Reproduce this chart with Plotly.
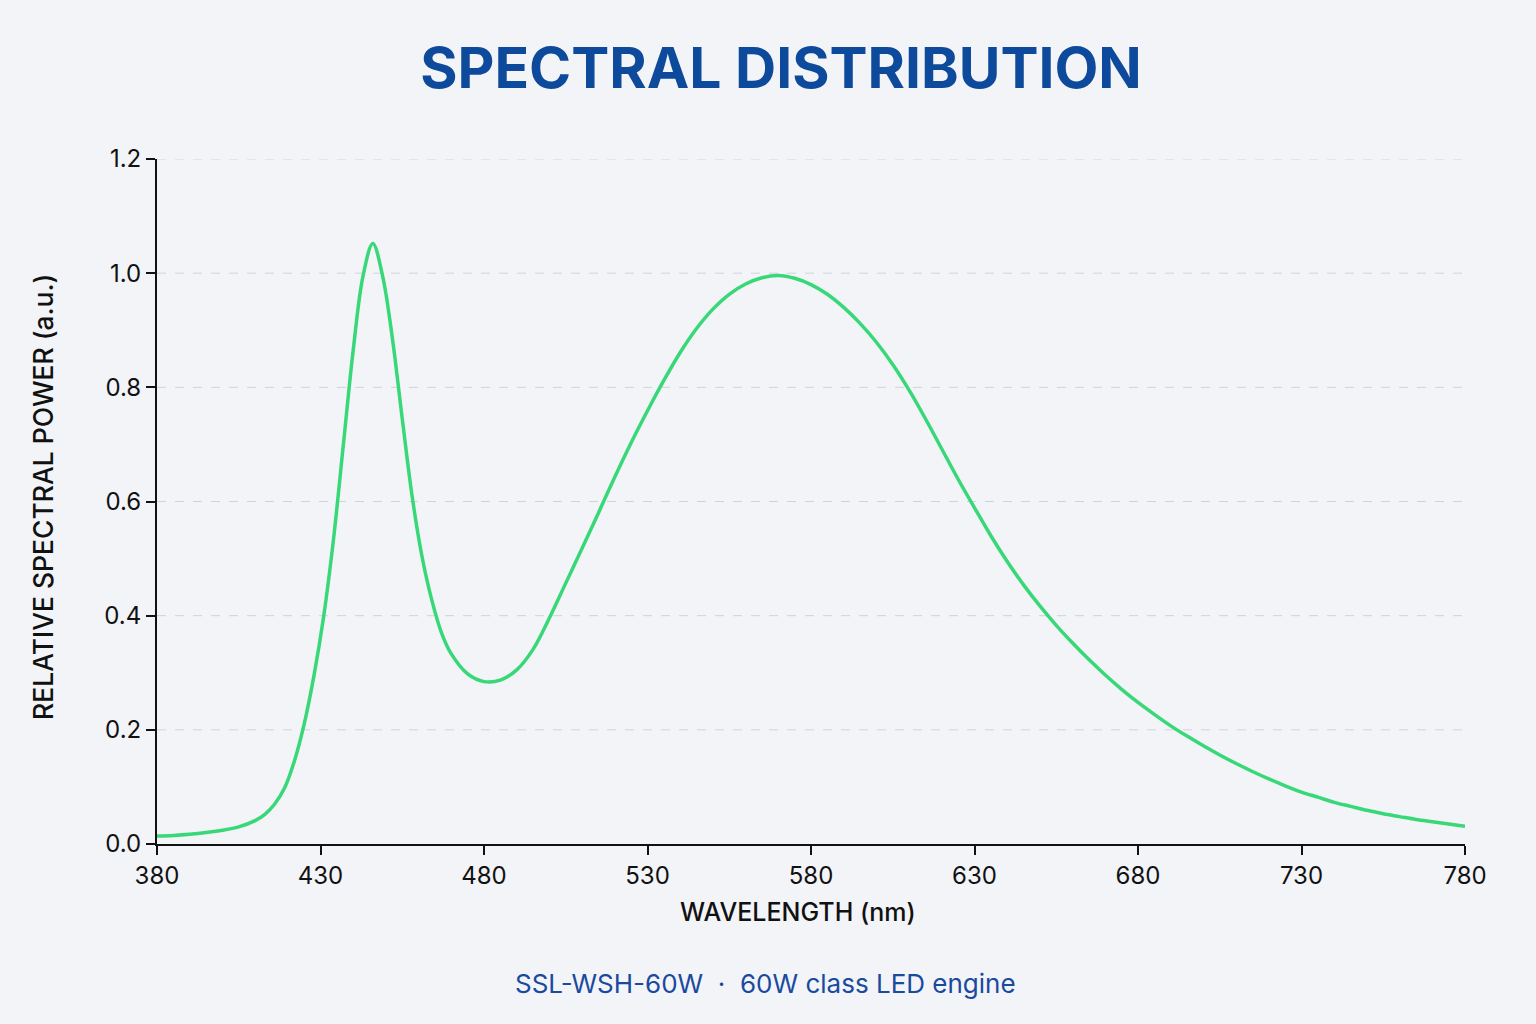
import plotly.graph_objects as go

wavelength_nm = [380, 385, 390, 395, 400, 405, 410, 413, 416, 419, 422, 425, 428, 431, 434, 437,
                 440, 443, 446, 449, 452, 455, 458, 461, 464, 467, 470, 475, 480, 485, 490, 495,
                 500, 505, 510, 515, 520, 525, 530, 535, 540, 545, 550, 555, 560, 565, 570, 575,
                 580, 585, 590, 595, 600, 605, 610, 615, 620, 625, 630, 635, 640, 645, 650, 655,
                 660, 665, 670, 675, 680, 685, 690, 695, 700, 705, 710, 715, 720, 725, 730, 735,
                 740, 745, 750, 755, 760, 765, 770, 775, 780]
relative_power = [0.014, 0.015, 0.017, 0.020, 0.024, 0.030, 0.041, 0.052, 0.070, 0.098, 0.145, 0.210,
                  0.295, 0.400, 0.535, 0.700, 0.865, 0.995, 1.052, 0.995, 0.885, 0.745, 0.610, 0.505,
                  0.428, 0.370, 0.333, 0.298, 0.2845, 0.287, 0.305, 0.341, 0.396, 0.457, 0.518, 0.580,
                  0.643, 0.703, 0.759, 0.812, 0.861, 0.903, 0.937, 0.963, 0.981, 0.992, 0.996, 0.991,
                  0.980, 0.963, 0.940, 0.912, 0.879, 0.840, 0.795, 0.745, 0.692, 0.639, 0.589, 0.540,
                  0.495, 0.454, 0.417, 0.383, 0.352, 0.323, 0.296, 0.271, 0.248, 0.227, 0.207, 0.189,
                  0.172, 0.156, 0.141, 0.127, 0.114, 0.102, 0.091, 0.082, 0.073, 0.066, 0.059, 0.053,
                  0.048, 0.043, 0.039, 0.035, 0.031]

x_ticks = [380, 430, 480, 530, 580, 630, 680, 730, 780]
y_ticks = [0.0, 0.2, 0.4, 0.6, 0.8, 1.0, 1.2]

title_text = "SPECTRAL DISTRIBUTION"
subtitle_text = "SSL-WSH-60W  ·  60W class LED engine"
x_title = "WAVELENGTH (nm)"
y_title = "RELATIVE SPECTRAL POWER (a.u.)"

BG = "#f2f4f8"
FONT = "Inter"
GRID = "#cfd3da"

fig = go.Figure()
fig.add_trace(go.Scatter(
    x=wavelength_nm, y=relative_power, mode="lines",
    line=dict(color="#38d878", width=3.5, shape="spline", smoothing=1.0),
    hoverinfo="x+y", showlegend=False,
))

fig.update_layout(
    width=1536, height=1024,
    paper_bgcolor=BG, plot_bgcolor=BG,
    margin=dict(l=157, r=71, t=159, b=180),
    font=dict(family=FONT, color="#111111"),
    title=dict(text=f"<b>{title_text}</b>", x=781 / 1536, xref="container", xanchor="center",
               y=1 - 68 / 1024, yref="container", yanchor="middle",
               font=dict(family=FONT, size=57, color="#0d4a9c")),
    xaxis=dict(range=[380, 780], tickvals=x_ticks, ticktext=[str(v) for v in x_ticks],
               showline=True, linecolor="#111111", linewidth=2,
               ticks="outside", ticklen=9, tickwidth=2, tickcolor="#111111",
               showgrid=False, zeroline=False,
               tickfont=dict(family=FONT, size=24, color="#111111")),
    yaxis=dict(range=[0, 1.2], tickvals=y_ticks, tickformat=".1f",
               showline=True, linecolor="#111111", linewidth=2,
               ticks="outside", ticklen=9, tickwidth=2, tickcolor="#111111",
               showgrid=False, zeroline=False,
               tickfont=dict(family=FONT, size=24, color="#111111")),
    annotations=[
        dict(text=x_title, xref="paper", yref="paper", x=(798 - 157) / 1308, y=(844 - 912) / 685,
             xanchor="center", yanchor="middle", showarrow=False,
             font=dict(family=FONT, size=25, color="#111111", weight=500)),
        dict(text=y_title, xref="paper", yref="paper", x=(43 - 157) / 1308, y=(844 - 497) / 685,
             xanchor="center", yanchor="middle", showarrow=False, textangle=-90,
             font=dict(family=FONT, size=26.5, color="#111111", weight=500)),
        dict(text=subtitle_text, xref="paper", yref="paper", x=(765 - 157) / 1308, y=(844 - 983) / 685,
             xanchor="center", yanchor="middle", showarrow=False,
             font=dict(family=FONT, size=26, color="#1a4a9e")),
    ],
)

# dashed horizontal gridlines at each y tick above zero
for v in y_ticks[1:]:
    fig.add_shape(type="line", xref="paper", yref="y", x0=0, x1=1.004, y0=v, y1=v,
                  line=dict(color=GRID, width=1, dash="dash"), layer="below")

fig.write_html("out.html")
